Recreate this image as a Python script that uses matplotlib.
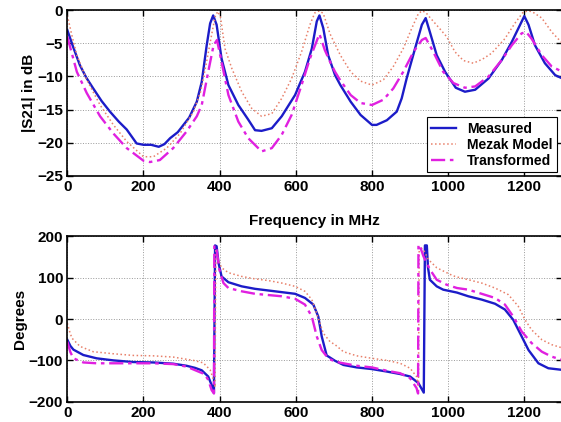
import matplotlib
matplotlib.use('Agg')
import matplotlib.pyplot as plt

plt.rcParams['font.family'] = ['Liberation Sans', 'DejaVu Sans']
plt.rcParams['font.weight'] = 'bold'
plt.rcParams['axes.labelweight'] = 'bold'

# |S21| magnitude in dB
f_meas_db = [0, 15, 33, 50, 68, 90, 112, 135, 156, 182, 200, 220, 240, 255, 270, 290, 305, 320, 340,
             353, 366, 375, 383, 392, 405, 423, 449, 475, 493, 510, 537, 563, 598, 624, 642, 655, 662,
             672, 685, 703, 717, 744, 770, 800, 812, 839, 865, 878, 891, 913, 931, 941, 952, 970, 992,
             1020, 1044, 1071, 1106, 1141, 1167, 1189, 1200, 1211, 1228, 1254, 1281, 1300]
meas_db = [-3.0, -5.5, -8.3, -10.2, -11.8, -13.7, -15.3, -16.8, -18.0, -20.1, -20.3, -20.3, -20.6, -20.2,
           -19.3, -18.4, -17.3, -16.2, -13.8, -10.8, -5.3, -2.0, -0.8, -2.2, -7.3, -11.3, -14.3, -16.5,
           -18.1, -18.2, -17.8, -16.0, -12.8, -9.3, -5.8, -1.7, -0.8, -2.7, -6.8, -9.8, -11.3, -13.8,
           -15.8, -17.3, -17.3, -16.6, -15.3, -13.3, -10.3, -5.8, -2.2, -1.2, -3.3, -6.8, -9.3, -11.7,
           -12.3, -12.0, -10.3, -7.5, -4.8, -2.2, -0.9, -2.2, -5.3, -8.0, -9.8, -10.3]

f_mezak_db = [0, 12, 25, 51, 86, 121, 156, 200, 226, 261, 296, 331, 350, 365, 378, 388, 395, 402, 414,
              432, 458, 484, 510, 537, 563, 589, 615, 637, 650, 662, 672, 690, 717, 744, 770, 800, 830,
              856, 882, 904, 922, 932, 942, 952, 975, 996, 1018, 1040, 1066, 1090, 1114, 1149, 1175,
              1197, 1212, 1225, 1246, 1272, 1300]
mezak_db = [-0.8, -3.8, -6.8, -10.5, -14.3, -17.3, -19.8, -22.1, -22.1, -20.8, -18.6, -15.3, -12.3, -8.0,
            -4.0, -1.0, -0.2, -1.0, -5.8, -8.8, -12.3, -14.8, -16.0, -15.6, -13.3, -10.3, -6.3, -2.2,
            -0.4, -0.1, -0.5, -3.6, -6.8, -9.3, -10.7, -11.3, -10.5, -8.5, -5.8, -2.8, -0.5, -0.1, -0.4,
            -1.1, -2.6, -4.0, -6.3, -7.6, -8.0, -7.4, -6.5, -4.3, -2.0, -0.3, -0.1, -0.4, -1.2, -3.3, -5.0]

f_trans_db = [0, 25, 51, 86, 121, 156, 200, 217, 243, 278, 313, 340, 353, 370, 384, 393, 405, 423, 449,
              475, 510, 537, 563, 589, 615, 637, 662, 676, 690, 703, 717, 744, 770, 800, 830, 856, 882,
              909, 931, 941, 961, 987, 1014, 1044, 1071, 1106, 1141, 1167, 1193, 1205, 1219, 1246, 1272, 1300]
trans_db = [-4.0, -9.3, -12.5, -16.0, -18.6, -20.8, -22.7, -22.9, -22.6, -20.8, -18.3, -16.0, -14.3, -9.3,
            -5.3, -4.5, -7.8, -12.8, -16.8, -19.3, -21.3, -20.8, -18.8, -15.8, -11.3, -7.3, -3.6, -6.0,
            -7.8, -9.3, -10.6, -12.8, -14.0, -14.3, -13.5, -11.8, -9.3, -6.3, -4.5, -4.2, -6.3, -9.3,
            -11.0, -11.7, -11.5, -10.0, -7.5, -5.3, -3.5, -3.3, -4.3, -6.8, -8.5, -9.3]

# phase in degrees
f_meas_ph = [0, 8, 16, 42, 77, 121, 173, 226, 278, 313, 335, 353, 370, 379, 385, 388, 392, 397, 405, 423,
             458, 493, 528, 563, 598, 624, 646, 659, 668, 681, 703, 725, 760, 800, 839, 874, 900, 922,
             936, 939, 944, 947, 952, 970, 987, 1023, 1053, 1088, 1123, 1149, 1171, 1193, 1211, 1237,
             1263, 1300]
meas_ph = [-50, -65, -74, -87, -95, -100, -104, -105, -108, -113, -118, -124, -139, -160, -179, 178, 176,
           136, 103, 89, 79, 73, 69, 65, 61, 51, 35, 6, -42, -88, -101, -111, -117, -121, -127, -133,
           -139, -155, -178, 178, 178, 125, 95, 79, 71, 64, 55, 47, 37, 23, -2, -42, -75, -107, -119, -123]

f_mezak_ph = [0, 6, 12, 33, 68, 121, 173, 226, 278, 331, 357, 375, 384, 388, 390, 398, 405, 423, 458, 493,
              528, 563, 598, 624, 642, 659, 672, 690, 703, 725, 760, 800, 839, 874, 900, 917, 922, 924,
              935, 948, 970, 1005, 1018, 1053, 1088, 1123, 1158, 1184, 1202, 1219, 1246, 1272, 1300]
mezak_ph = [-10, -30, -46, -66, -79, -84, -88, -89, -92, -100, -106, -123, -147, -165, 170, 140, 124, 112,
            103, 97, 93, 87, 79, 67, 47, 2, -34, -55, -62, -79, -89, -95, -100, -107, -119, -139, -164,
            175, 168, 144, 124, 108, 103, 95, 87, 75, 59, 31, -2, -26, -50, -62, -70]

f_trans_ph = [0, 8, 16, 42, 77, 226, 278, 313, 344, 360, 370, 379, 385, 386, 392, 399, 410, 423, 458, 493,
              528, 563, 598, 624, 642, 655, 668, 685, 703, 725, 760, 800, 839, 874, 900, 917, 921, 922,
              926, 935, 952, 970, 996, 1023, 1053, 1088, 1123, 1149, 1171, 1193, 1219, 1246, 1272, 1300]
trans_ph = [-55, -80, -95, -105, -107, -107, -109, -115, -127, -133, -147, -172, -180, 178, 168, 120, 87,
            75, 67, 61, 58, 55, 49, 35, 6, -42, -75, -95, -103, -107, -113, -117, -125, -131, -143, -167,
            -180, 180, 176, 152, 120, 95, 83, 75, 71, 61, 51, 35, 6, -30, -58, -79, -91, -99]

labels = ['Measured', 'Mezak Model', 'Transformed']
blue = '#1c1cc8'
orange = '#e8806a'
magenta = '#e020e0'

fig = plt.figure(figsize=(5.61, 4.22), dpi=100)
ax1 = fig.add_axes([0.120, 0.583, 0.8825, 0.393])
ax2 = fig.add_axes([0.120, 0.048, 0.8825, 0.392])

ax1.plot(f_meas_db, meas_db, color=blue, lw=1.7, label=labels[0])
ax1.plot(f_mezak_db, mezak_db, color=orange, lw=1.1, ls=':', label=labels[1])
ax1.plot(f_trans_db, trans_db, color=magenta, lw=1.7, ls=(0, (6, 2, 1.5, 2)), label=labels[2])

ax2.plot(f_meas_ph, meas_ph, color=blue, lw=1.7)
ax2.plot(f_mezak_ph, mezak_ph, color=orange, lw=1.1, ls=':')
ax2.plot(f_trans_ph, trans_ph, color=magenta, lw=1.7, ls=(0, (6, 2, 1.5, 2)))

ax1.set_xlim(0, 1300)
ax1.set_ylim(-25, 0)
ax1.set_yticks([-25, -20, -15, -10, -5, 0])
ax1.set_ylabel('|S21| in dB', fontsize=11, labelpad=1)
ax1.set_xlabel('Frequency in MHz', fontsize=11, labelpad=14)

ax2.set_xlim(0, 1300)
ax2.set_ylim(-200, 200)
ax2.set_yticks([-200, -100, 0, 100, 200])
ax2.set_ylabel('Degrees', fontsize=11, labelpad=1)

for ax in (ax1, ax2):
    ax.set_xticks([0, 200, 400, 600, 800, 1000, 1200])
    ax.grid(True, color='#999999', ls=':', lw=0.7)
    ax.tick_params(direction='in', length=4, width=1, top=True, right=True, labelsize=11, pad=3)
    for s in ax.spines.values():
        s.set_linewidth(1.2)

leg = ax1.legend(loc='lower right', bbox_to_anchor=(0.989, 0.024), borderaxespad=0,
                 fontsize=10, handlelength=1.8, labelspacing=0.15, borderpad=0.3,
                 fancybox=False, framealpha=1, edgecolor='black')
leg.get_frame().set_linewidth(0.8)

fig.savefig('out.png', dpi=100)
